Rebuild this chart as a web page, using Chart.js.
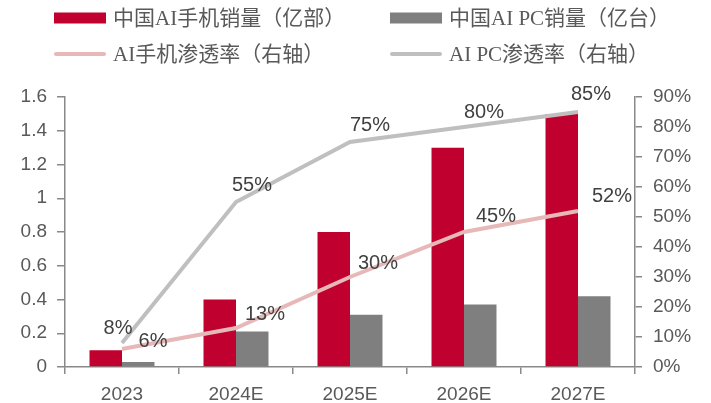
<!DOCTYPE html>
<html>
<head>
<meta charset="utf-8">
<script src="https://cdn.jsdelivr.net/npm/chart.js@4/dist/chart.umd.min.js"></script>
<style>
  html, body { margin: 0; padding: 0; background: #ffffff; }
  #wrap { width: 711px; height: 403px; position: relative; }
</style>
</head>
<body>
<div id="wrap"><canvas id="c" width="711" height="403"></canvas></div>
<script>
// Categories and series
const years = ['2023', '2024E', '2025E', '2026E', '2027E'];
const phoneSales = [0.10, 0.40, 0.80, 1.30, 1.50];   // 中国AI手机销量（亿部）
const pcSales = [0.03, 0.21, 0.31, 0.37, 0.42];      // 中国AI PC销量（亿台）
const phoneRate = [6, 13, 30, 45, 52];               // AI手机渗透率（%）
const pcRate = [8, 55, 75, 80, 85];                  // AI PC渗透率（%）

const seriesNames = ['中国AI手机销量（亿部）', '中国AI PC销量（亿台）', 'AI手机渗透率（右轴）', 'AI PC渗透率（右轴）'];

const RED = '#C0002E';
const DARK = '#7F7F7F';
const PINK = '#E6B9B8';
const LIGHT = '#BFBFBF';
const AXIS = '#898989';
const TICKTXT = '#595959';
const SANS = '"Liberation Sans", Arial, sans-serif';

// Legend drawn in two rows at the top of the canvas
const legendPlugin = {
  id: 'topLegend',
  afterDraw(chart) {
    const ctx = chart.ctx;
    const items = [
      { text: seriesNames[0], color: RED, type: 'box', x: 54, y: 18 },
      { text: seriesNames[1], color: DARK, type: 'box', x: 390, y: 18 },
      { text: seriesNames[2], color: PINK, type: 'line', x: 54, y: 54 },
      { text: seriesNames[3], color: LIGHT, type: 'line', x: 390, y: 54 }
    ];
    ctx.save();
    ctx.font = '21px "Liberation Serif", "Noto Sans CJK SC", serif';
    ctx.textBaseline = 'middle';
    ctx.textAlign = 'left';
    items.forEach(it => {
      if (it.type === 'box') {
        ctx.fillStyle = it.color;
        ctx.fillRect(it.x, it.y - 5.5, 52, 11);
      } else {
        ctx.strokeStyle = it.color;
        ctx.lineWidth = 4;
        ctx.lineCap = 'round';
        ctx.beginPath();
        ctx.moveTo(it.x + 2, it.y);
        ctx.lineTo(it.x + 50, it.y);
        ctx.stroke();
      }
      ctx.fillStyle = TICKTXT;
      ctx.fillText(it.text, it.x + 59, it.y + 1);
    });
    ctx.restore();
  }
};

// Percentage labels beside the line points
const rateLabelPlugin = {
  id: 'rateLabels',
  afterDatasetsDraw(chart, args, opts) {
    const ctx = chart.ctx;
    ctx.save();
    ctx.font = '20px ' + SANS;
    ctx.fillStyle = '#404040';
    ctx.textAlign = 'center';
    ctx.textBaseline = 'middle';
    (opts.sets || []).forEach(s => {
      const meta = chart.getDatasetMeta(s.index);
      const data = chart.data.datasets[s.index].data;
      meta.data.forEach((pt, i) => {
        const off = s.offsets[i];
        ctx.fillText(data[i] + '%', pt.x + off[0], pt.y + off[1]);
      });
    });
    ctx.restore();
  }
};

new Chart(document.getElementById('c'), {
  type: 'bar',
  data: {
    labels: years,
    datasets: [
      { type: 'line', label: seriesNames[2], data: phoneRate, yAxisID: 'yR',
        borderColor: PINK, borderWidth: 4, pointRadius: 0, tension: 0, order: 1 },
      { type: 'line', label: seriesNames[3], data: pcRate, yAxisID: 'yR',
        borderColor: LIGHT, borderWidth: 4, pointRadius: 0, tension: 0, order: 0 },
      { label: seriesNames[0], data: phoneSales, yAxisID: 'yL', backgroundColor: RED,
        categoryPercentage: 0.57, barPercentage: 1.0, order: 2 },
      { label: seriesNames[1], data: pcSales, yAxisID: 'yL', backgroundColor: DARK,
        categoryPercentage: 0.57, barPercentage: 1.0, order: 2 }
    ]
  },
  options: {
    responsive: false,
    animation: false,
    layout: { padding: { top: 97, left: 0, right: 0, bottom: 0 } },
    plugins: {
      legend: { display: false },
      tooltip: { enabled: false },
      rateLabels: {
        sets: [
          { index: 0, offsets: [[31, -8], [29, -14], [28, -14], [32, -16], [34, -15]] },
          { index: 1, offsets: [[-4, -15], [16, -17], [20, -17], [20, -15], [13, -18]] }
        ]
      }
    },
    scales: {
      x: {
        offset: true,
        afterFit(scale) { scale.height = 36; },
        grid: { display: true, drawOnChartArea: false, drawTicks: true, tickLength: 7,
                color: AXIS, lineWidth: 1.5, offset: true },
        border: { display: true, color: AXIS, width: 1.5 },
        ticks: { color: TICKTXT, padding: 9, font: { size: 19, family: SANS } }
      },
      yL: {
        position: 'left', min: 0, max: 1.6,
        afterFit(scale) { scale.width = 65; },
        grid: { display: true, drawOnChartArea: false, drawTicks: true, tickLength: 8,
                color: AXIS, lineWidth: 1.5 },
        border: { display: true, color: AXIS, width: 1.5 },
        ticks: { stepSize: 0.2, color: TICKTXT, padding: 10,
                 font: { size: 19, family: SANS },
                 callback: v => String(Math.round(v * 10) / 10) }
      },
      yR: {
        position: 'right', min: 0, max: 90,
        afterFit(scale) { scale.width = 76; },
        grid: { display: true, drawOnChartArea: false, drawTicks: true, tickLength: 7,
                color: AXIS, lineWidth: 1.5 },
        border: { display: true, color: AXIS, width: 1.5 },
        ticks: { stepSize: 10, color: TICKTXT, padding: 11,
                 font: { size: 19, family: SANS },
                 callback: v => v + '%' }
      }
    }
  },
  plugins: [legendPlugin, rateLabelPlugin]
});
</script>
</body>
</html>
